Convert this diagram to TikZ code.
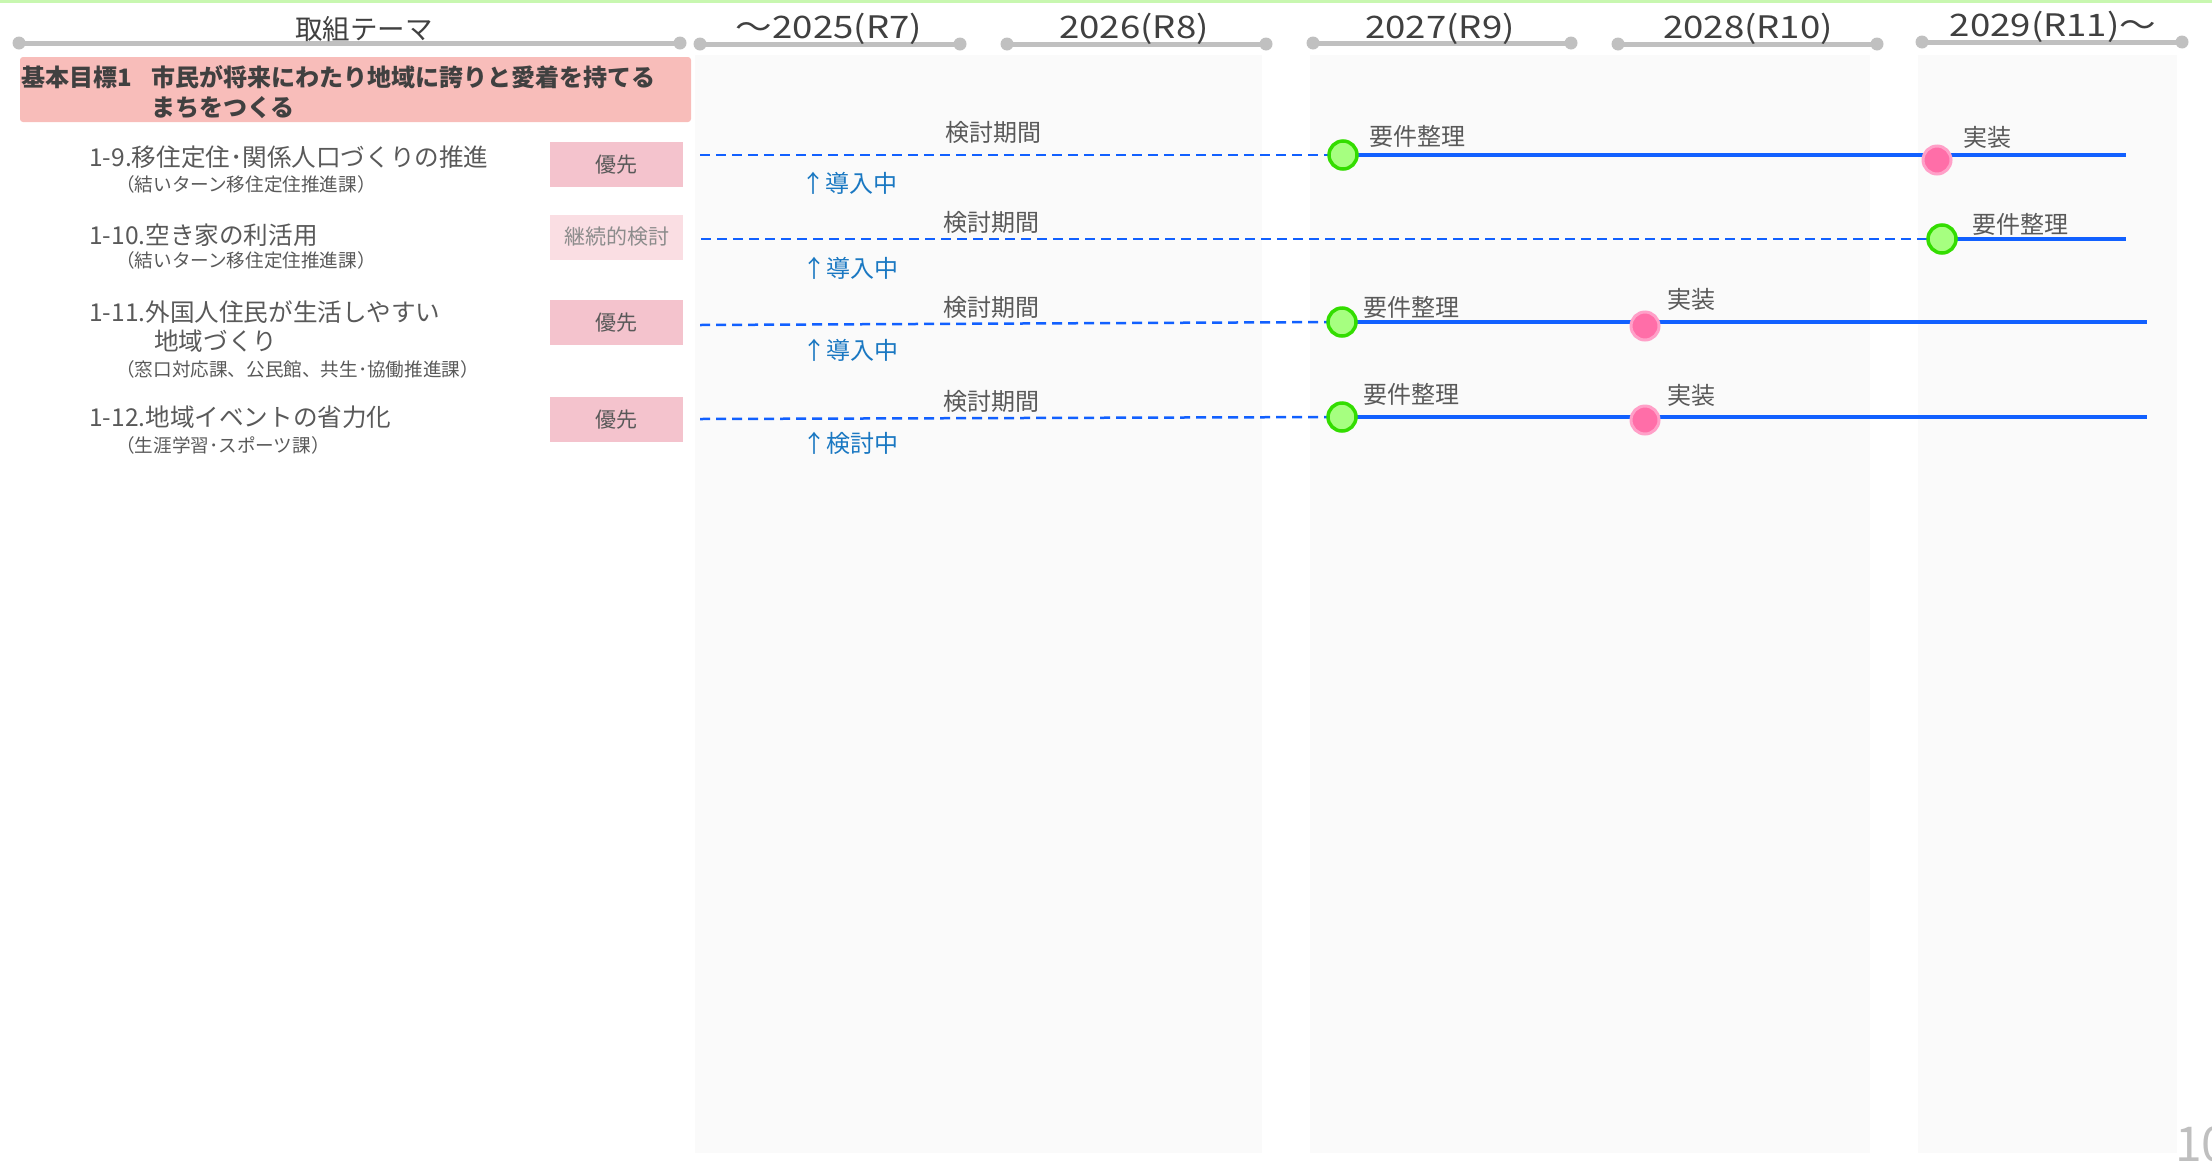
\documentclass[tikz,border=0pt]{standalone}
\usepackage{fontspec}
\setmainfont{Noto Sans CJK JP}
\newfontfamily\yearfont[FakeStretch=1.18]{Noto Sans CJK JP}
\pgfdeclarelayer{back}
\pgfdeclarelayer{lines}
\pgfsetlayers{back,lines,main}
\definecolor{barg}{HTML}{C0C0C0}
\definecolor{hdrtxt}{HTML}{404040}
\definecolor{txtg}{HTML}{595959}
\definecolor{panelc}{HTML}{FAFAFA}
\definecolor{goalc}{HTML}{F8BDBA}
\definecolor{prioc}{HTML}{F4C3CD}
\definecolor{priol}{HTML}{FADEE3}
\definecolor{priolt}{HTML}{8C8C8C}
\definecolor{bline}{HTML}{1160FF}
\definecolor{gfill}{HTML}{A6FF80}
\definecolor{gline}{HTML}{33DD00}
\definecolor{pfill}{HTML}{FF6EA8}
\definecolor{pline}{HTML}{FFA0C8}
\definecolor{statc}{HTML}{1A78C2}
\definecolor{topg}{HTML}{C8F7B0}
\definecolor{pnum}{HTML}{BFBFBF}
\begin{document}
\begin{tikzpicture}[x=1pt,y=-1pt,
  hdr/.style={inner sep=0, text=hdrtxt, font=\yearfont\fontsize{31}{31}\selectfont},
  hdrjp/.style={inner sep=0, text=hdrtxt, font=\fontsize{27.5}{27.5}\selectfont},
  bar/.style={draw=barg, line width=5pt},
  bardot/.style={circle, fill=barg, minimum size=13pt, inner sep=0},
  item/.style={anchor=west, inner sep=0, text=txtg, font=\fontsize{24.6}{24.6}\selectfont},
  subitem/.style={anchor=west, inner sep=0, text=txtg, font=\fontsize{18.6}{18.6}\selectfont},
  prio/.style={fill=prioc, minimum width=133pt, minimum height=45pt, inner sep=0, text=txtg, font=\fontsize{21}{21}\selectfont},
  priolight/.style={prio, fill=priol, text=priolt},
  gdot/.style={circle, fill=gfill, draw=gline, line width=3.5pt, minimum size=28pt, inner sep=0},
  pdot/.style={circle, fill=pfill, draw=pline, line width=3pt, minimum size=28pt, inner sep=0},
  lbl/.style={inner sep=0, text=txtg, font=\fontsize{24}{24}\selectfont},
  lblw/.style={lbl, anchor=west},
  stat/.style={anchor=west, inner sep=0, text=statc, font=\fontsize{24}{24}\selectfont},
  plan/.style={draw=bline, line width=2.5pt, dash pattern=on 10pt off 6pt},
  done/.style={draw=bline, line width=3.5pt},
  goaltxt/.style={anchor=west, inner sep=0, text=hdrtxt, font=\fontsize{24}{24}\selectfont\bfseries}
]
\useasboundingbox (0,0) rectangle (2212,1160);

% top green line
\fill[topg] (0,0) rectangle (2212,3);

% background panels
\begin{pgfonlayer}{back}
\fill[panelc] (695,55) rectangle (1262,1153);
\fill[panelc] (1310,55) rectangle (1870,1153);
\fill[panelc] (1918,55) rectangle (2177,1153);
\end{pgfonlayer}

% header bars
\foreach \n/\xa/\xb/\yy in {0/19/680/43, 1/700/960/44, 2/1007/1266/44, 3/1313/1571/43, 4/1618/1877/44, 5/1922/2182/42}{
  \node[bardot] (b\n a) at (\xa,\yy) {};
  \node[bardot] (b\n b) at (\xb,\yy) {};
  \begin{pgfonlayer}{lines}
  \draw[bar] (b\n a.center) -- (b\n b.center);
  \end{pgfonlayer}
}
\node[hdrjp] (t0) at (364,29) {取組テーマ};
\node[hdr] (t1) at (829,29) {～2025(R7)};
\node[hdr] (t2) at (1134,29) {2026(R8)};
\node[hdr] (t3) at (1440,29) {2027(R9)};
\node[hdr] (t4) at (1748,29) {2028(R10)};
\node[hdr] (t5) at (2053,27) {2029(R11)～};

% goal box
\node[fill=goalc, rounded corners=3pt, minimum width=671pt, minimum height=65pt, inner sep=0] (goal) at (355.5,89.5) {};
\node[goaltxt] (g0) at (21,77.5) {基本目標1};
\node[goaltxt] (g1) at (151,77.5) {市民が将来にわたり地域に誇りと愛着を持てる};
\node[goaltxt] (g2) at (151,108) {まちをつくる};

% left items
\node[item] (i1) at (89,157) {1-9.移住定住･関係人口づくりの推進};
\node[subitem] (s1) at (116,184.5) {（結いターン移住定住推進課）};
\node[item] (i2) at (89,235) {1-10.空き家の利活用};
\node[subitem] (s2) at (116,260.5) {（結いターン移住定住推進課）};
\node[item] (i3) at (89,312.5) {1-11.外国人住民が生活しやすい};
\node[item] (i3b) at (154,341) {地域づくり};
\node[subitem] (s3) at (116,369.5) {（窓口対応課、公民館、共生･協働推進課）};
\node[item] (i4) at (89,417) {1-12.地域イベントの省力化};
\node[subitem] (s4) at (116,445.5) {（生涯学習･スポーツ課）};

% priority boxes
\node[prio] (p1) at (616.5,164.5) {優先};
\node[priolight] (p2) at (616.5,237) {継続的検討};
\node[prio] (p3) at (616.5,322.5) {優先};
\node[prio] (p4) at (616.5,419.5) {優先};

% row 1
\coordinate (r1s) at (700,155);
\coordinate (r1e) at (2126,155);
\node[gdot] (r1g) at (1343,155) {};
\node[pdot] (r1p) at (1937,160) {};
\node[lbl] (r1k) at (993,132) {検討期間};
\node[lblw] (r1y) at (1369,136) {要件整理};
\node[lblw] (r1j) at (1963,137) {実装};
\node[stat] (r1st) at (801,183) {↑導入中};

% row 2
\coordinate (r2s) at (701,239);
\coordinate (r2e) at (2126,239);
\node[gdot] (r2g) at (1942,239) {};
\node[lbl] (r2k) at (991,222) {検討期間};
\node[lblw] (r2y) at (1972,224) {要件整理};
\node[stat] (r2st) at (802,268) {↑導入中};

% row 3
\coordinate (r3s) at (700,325);
\coordinate (r3e) at (2147,322);
\node[gdot] (r3g) at (1342,322) {};
\node[pdot] (r3p) at (1645,326) {};
\node[lbl] (r3k) at (991,307) {検討期間};
\node[lblw] (r3y) at (1363,307) {要件整理};
\node[lblw] (r3j) at (1667,299) {実装};
\node[stat] (r3st) at (802,350) {↑導入中};

% row 4
\coordinate (r4s) at (700,419);
\coordinate (r4e) at (2147,417);
\node[gdot] (r4g) at (1342,417) {};
\node[pdot] (r4p) at (1645,420) {};
\node[lbl] (r4k) at (991,401) {検討期間};
\node[lblw] (r4y) at (1363,394) {要件整理};
\node[lblw] (r4j) at (1667,395) {実装};
\node[stat] (r4st) at (802,443) {↑検討中};

\begin{pgfonlayer}{lines}
\draw[plan] (r1s) -- (r1g.center);
\draw[done] (r1g.center) -- (r1e);
\draw[plan] (r2s) -- (r2g.center);
\draw[done] (r2g.center) -- (r2e);
\draw[plan] (r3s) -- (r3g.center);
\draw[done] (r3g.center) -- (r3e);
\draw[plan] (r4s) -- (r4g.center);
\draw[done] (r4g.center) -- (r4e);
\end{pgfonlayer}

% page number
\node[anchor=north west, inner sep=0, text=pnum, font=\fontsize{48}{48}\selectfont] (pg) at (2175,1126) {10};
\end{tikzpicture}
\end{document}
